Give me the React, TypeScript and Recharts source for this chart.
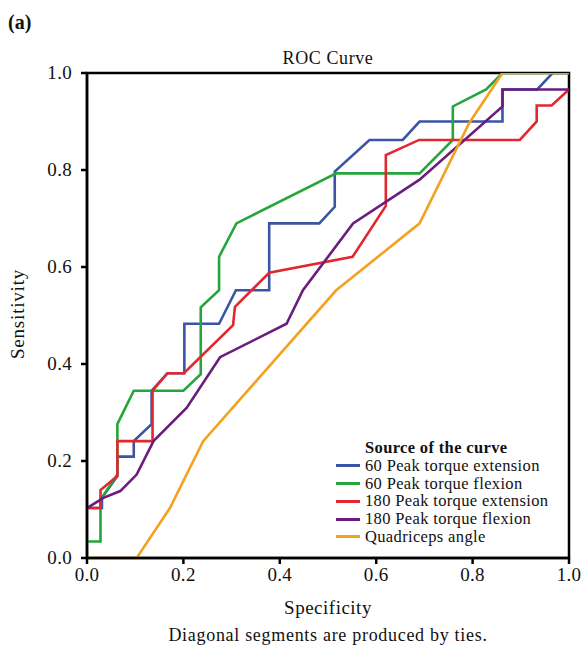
import { Legend, Line, LineChart, ReferenceArea, XAxis, YAxis } from "recharts";

type Pt = { x: number; y: number };

const ticks = [0, 0.2, 0.4, 0.6, 0.8, 1];

const seriesNames = [
  "60 Peak torque extension",
  "60 Peak torque flexion",
  "180 Peak torque extension",
  "180 Peak torque flexion",
  "Quadriceps angle",
];
const seriesColors = ["#3a55a6", "#25a53c", "#e2272f", "#6b1d7d", "#f3a21f"];

// specificity (x) / sensitivity (y) pairs
const ext60: Pt[] = [
  { x: 0, y: 0.103 }, { x: 0.031, y: 0.103 }, { x: 0.031, y: 0.124 }, { x: 0.063, y: 0.169 },
  { x: 0.063, y: 0.209 }, { x: 0.097, y: 0.209 }, { x: 0.097, y: 0.241 }, { x: 0.134, y: 0.276 },
  { x: 0.134, y: 0.345 }, { x: 0.167, y: 0.381 }, { x: 0.202, y: 0.381 }, { x: 0.202, y: 0.483 },
  { x: 0.274, y: 0.483 }, { x: 0.309, y: 0.552 }, { x: 0.378, y: 0.552 }, { x: 0.378, y: 0.69 },
  { x: 0.482, y: 0.69 }, { x: 0.514, y: 0.724 }, { x: 0.514, y: 0.797 }, { x: 0.586, y: 0.862 },
  { x: 0.655, y: 0.862 }, { x: 0.69, y: 0.9 }, { x: 0.862, y: 0.9 }, { x: 0.862, y: 0.966 },
  { x: 0.934, y: 0.966 }, { x: 0.966, y: 1 }, { x: 1, y: 1 },
];

const flex60: Pt[] = [
  { x: 0, y: 0.034 }, { x: 0.028, y: 0.034 }, { x: 0.028, y: 0.12 }, { x: 0.063, y: 0.172 },
  { x: 0.063, y: 0.276 }, { x: 0.097, y: 0.345 }, { x: 0.2, y: 0.345 }, { x: 0.236, y: 0.379 },
  { x: 0.236, y: 0.517 }, { x: 0.274, y: 0.552 }, { x: 0.274, y: 0.621 }, { x: 0.31, y: 0.69 },
  { x: 0.517, y: 0.793 }, { x: 0.69, y: 0.793 }, { x: 0.759, y: 0.862 }, { x: 0.759, y: 0.931 },
  { x: 0.828, y: 0.966 }, { x: 0.862, y: 1 }, { x: 1, y: 1 },
];

const ext180: Pt[] = [
  { x: 0, y: 0.103 }, { x: 0.028, y: 0.103 }, { x: 0.028, y: 0.14 }, { x: 0.063, y: 0.169 },
  { x: 0.063, y: 0.241 }, { x: 0.136, y: 0.241 }, { x: 0.136, y: 0.345 }, { x: 0.167, y: 0.381 },
  { x: 0.201, y: 0.381 }, { x: 0.303, y: 0.48 }, { x: 0.307, y: 0.518 }, { x: 0.378, y: 0.588 },
  { x: 0.551, y: 0.621 }, { x: 0.62, y: 0.726 }, { x: 0.62, y: 0.831 }, { x: 0.689, y: 0.862 },
  { x: 0.898, y: 0.862 }, { x: 0.933, y: 0.9 }, { x: 0.933, y: 0.933 }, { x: 0.964, y: 0.933 },
  { x: 1, y: 0.966 },
];

const flex180: Pt[] = [
  { x: 0, y: 0.103 }, { x: 0.034, y: 0.124 }, { x: 0.069, y: 0.138 }, { x: 0.103, y: 0.172 },
  { x: 0.138, y: 0.241 }, { x: 0.207, y: 0.31 }, { x: 0.276, y: 0.414 }, { x: 0.414, y: 0.483 },
  { x: 0.448, y: 0.552 }, { x: 0.552, y: 0.69 }, { x: 0.69, y: 0.78 }, { x: 0.862, y: 0.931 },
  { x: 0.862, y: 0.966 }, { x: 1, y: 0.966 },
];

const quad: Pt[] = [
  { x: 0, y: 0 }, { x: 0.103, y: 0 }, { x: 0.172, y: 0.103 }, { x: 0.241, y: 0.241 },
  { x: 0.517, y: 0.552 }, { x: 0.69, y: 0.69 }, { x: 0.793, y: 0.897 }, { x: 0.862, y: 1 },
  { x: 1, y: 1 },
];

const seriesData = [ext60, flex60, ext180, flex180, quad];

const serif = "'Liberation Serif', 'Times New Roman', serif";

function CurveLegend() {
  return (
    <div style={{ fontFamily: serif, fontSize: 16.5, letterSpacing: 0.35, color: "#111", lineHeight: "17.8px" }}>
      <div style={{ fontWeight: "bold", marginLeft: 29 }}>Source of the curve</div>
      {seriesNames.map((n, i) => (
        <div key={n} style={{ display: "flex", alignItems: "center" }}>
          <span style={{ display: "inline-block", width: 24, height: 3, background: seriesColors[i], marginRight: 5 }} />
          {n}
        </div>
      ))}
    </div>
  );
}

function XTick({ x, y, payload }: any) {
  return (
    <text x={x} y={y + 15} textAnchor="middle" fontSize={19} fontFamily={serif} fill="#111" letterSpacing={0.3}>
      {Number(payload.value).toFixed(1)}
    </text>
  );
}

function YTick({ x, y, payload }: any) {
  return (
    <text x={x - 7} y={y + 6} textAnchor="end" fontSize={19} fontFamily={serif} fill="#111" letterSpacing={0.3}>
      {Number(payload.value).toFixed(1)}
    </text>
  );
}

export default function App() {
  return (
    <div style={{ position: "absolute", left: 0, top: 0, width: 582, height: 647, background: "#fff", fontFamily: serif, color: "#111" }}>
      <div style={{ position: "absolute", left: 8, top: 11, fontSize: 20, fontWeight: "bold" }}>(a)</div>
      <div style={{ position: "absolute", left: 0, width: 656, top: 48, textAlign: "center", fontSize: 18, letterSpacing: 0.6 }}>ROC Curve</div>
      <div
        style={{
          position: "absolute",
          left: 18,
          top: 314,
          transform: "translate(-50%, -50%) rotate(-90deg)",
          fontSize: 19,
          letterSpacing: 0.8,
          whiteSpace: "nowrap",
        }}
      >
        Sensitivity
      </div>
      <div style={{ position: "absolute", left: 0, width: 656, top: 597, textAlign: "center", fontSize: 19, letterSpacing: 0.5 }}>Specificity</div>
      <div style={{ position: "absolute", left: 0, width: 656, top: 625, textAlign: "center", fontSize: 18, letterSpacing: 0.7 }}>
        Diagonal segments are produced by ties.
      </div>
      <div style={{ position: "absolute", left: 0, top: 0 }}>
        <LineChart width={582} height={647} margin={{ top: 73, right: 13, left: 47, bottom: 59 }}>
          <XAxis
            type="number"
            dataKey="x"
            domain={[0, 1]}
            ticks={ticks}
            allowDataOverflow
            height={30}
            tickSize={6}
            axisLine={{ stroke: "#000", strokeWidth: 2.5 }}
            tickLine={{ stroke: "#000", strokeWidth: 2.5 }}
            tick={<XTick />}
          />
          <YAxis
            type="number"
            dataKey="y"
            domain={[0, 1]}
            ticks={ticks}
            allowDataOverflow
            width={40}
            tickSize={6}
            axisLine={{ stroke: "#000", strokeWidth: 2.5 }}
            tickLine={{ stroke: "#000", strokeWidth: 2.5 }}
            tick={<YTick />}
          />
          <ReferenceArea x1={0} x2={1} y1={0} y2={1} fill="none" stroke="#000" strokeWidth={2.5} ifOverflow="visible" />
          {seriesData.map((d, i) => (
            <Line
              key={seriesNames[i]}
              data={d}
              dataKey="y"
              name={seriesNames[i]}
              stroke={seriesColors[i]}
              strokeWidth={2.6}
              dot={false}
              activeDot={false}
              type="linear"
              isAnimationActive={false}
            />
          ))}
          <Legend
            layout="vertical"
            verticalAlign="middle"
            align="center"
            content={CurveLegend as any}
            wrapperStyle={{ left: 336, top: 439, width: 240 }}
          />
        </LineChart>
      </div>
    </div>
  );
}
